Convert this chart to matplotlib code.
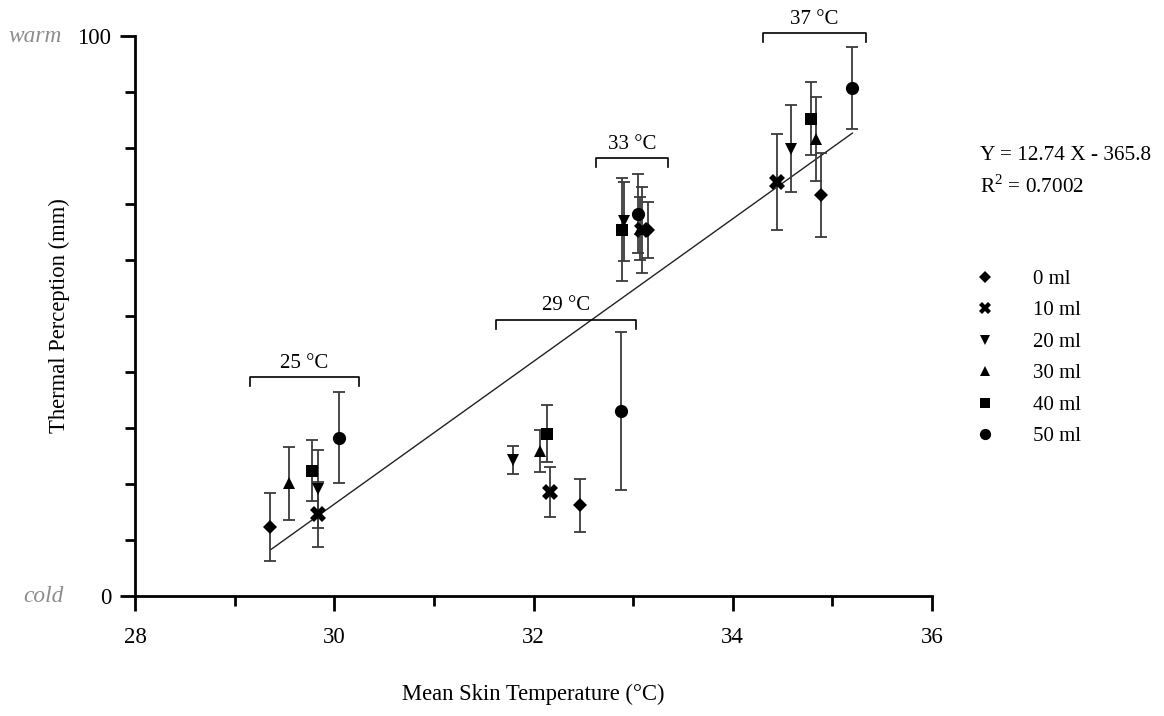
import matplotlib
matplotlib.use("Agg")
import matplotlib.pyplot as plt
from matplotlib.ticker import MultipleLocator, FixedLocator
import numpy as np

plt.rcParams['font.family'] = ['Liberation Serif', 'DejaVu Serif']
plt.rcParams['mathtext.fontset'] = 'custom'
plt.rcParams['mathtext.rm'] = 'Liberation Serif'

labels = ["0 ml", "10 ml", "20 ml", "30 ml", "40 ml", "50 ml"]
markers = ["D", "X", "v", "^", "s", "o"]
msizes = [7.0, 11.0, 8.5, 8.5, 9.0, 9.5]

x_0 = [29.36, 32.47, 33.15, 34.89]
y_0 = [12.3, 16.2, 65.4, 71.6]
e_0 = [6.1, 4.7, 5.0, 7.5]

x_10 = [29.84, 32.17, 33.09, 34.44]
y_10 = [14.6, 18.6, 65.4, 73.9]
e_10 = [5.8, 4.5, 7.7, 8.6]

x_20 = [29.84, 31.79, 32.91, 34.58]
y_20 = [19.1, 24.3, 66.9, 79.9]
e_20 = [7.0, 2.5, 7.1, 7.7]

x_30 = [29.55, 32.07, 33.07, 34.84]
y_30 = [20.1, 25.9, 65.6, 81.6]
e_30 = [6.5, 3.7, 5.6, 7.5]

x_40 = [29.78, 32.14, 32.89, 34.79]
y_40 = [22.4, 29.0, 65.4, 85.2]
e_40 = [5.5, 5.1, 9.2, 6.5]

x_50 = [30.05, 32.88, 33.05, 35.20]
y_50 = [28.3, 33.0, 68.3, 90.7]
e_50 = [8.1, 14.1, 7.0, 7.3]

slope = 12.74
intercept = -365.8
r2 = 0.7002

bracket_labels = ["25 °C", "29 °C", "33 °C", "37 °C"]
bracket_x0 = [29.15, 31.62, 32.63, 34.30]
bracket_x1 = [30.25, 33.03, 33.35, 35.34]
bracket_y = [39.1, 49.3, 78.2, 100.5]

xs = [x_0, x_10, x_20, x_30, x_40, x_50]
ys = [y_0, y_10, y_20, y_30, y_40, y_50]
es = [e_0, e_10, e_20, e_30, e_40, e_50]

fig = plt.figure(figsize=(11.64, 7.16), dpi=100)
ax = fig.add_axes([135/1164, 120/716, (932-135)/1164, (596-36)/716])

# regression line
allx = np.concatenate([np.array(v) for v in xs])
lx = np.array([allx.min(), allx.max()])
ax.plot(lx, slope*lx + intercept, color='#222222', lw=1.0, zorder=2)

for x, y, e, m, ms, lab in zip(xs, ys, es, markers, msizes, labels):
    ax.errorbar(x, y, yerr=e, fmt='none', ecolor='#3a3a3a', elinewidth=1.3,
                capsize=4.6, capthick=1.3, zorder=3)
    ax.plot(x, y, ls='none', marker=m, color='black', markersize=ms,
            markeredgewidth=0, label=lab, zorder=4)

# brackets
for lab, a, b, yy in zip(bracket_labels, bracket_x0, bracket_x1, bracket_y):
    ax.plot([a, a, b, b], [yy-1.6, yy, yy, yy-1.6], color='black', lw=1.2,
            clip_on=False)
    ax.text((a+b)/2, yy+0.8, lab, ha='center', va='bottom', fontsize=15,
            clip_on=False)

ax.set_xlim(28, 36)
ax.set_ylim(0, 100)
ax.spines['top'].set_visible(False)
ax.spines['right'].set_visible(False)
ax.spines['left'].set_linewidth(2.0)
ax.spines['bottom'].set_linewidth(2.0)
ax.xaxis.set_major_locator(MultipleLocator(2))
ax.xaxis.set_minor_locator(MultipleLocator(1))
ax.yaxis.set_major_locator(FixedLocator([0, 100]))
ax.yaxis.set_minor_locator(MultipleLocator(10))
ax.tick_params(which='major', length=11, width=2.0, labelsize=16.5)
ax.tick_params(axis='x', which='major', pad=11)
ax.tick_params(axis='y', which='major', pad=6)
ax.tick_params(which='minor', length=7, width=2.0)

ax.text(-0.092, 1.0, "warm", transform=ax.transAxes, ha='right', va='center',
        fontsize=16.8, style='italic', color='#8c8c8c')
ax.text(-0.090, 0.0, "cold", transform=ax.transAxes, ha='right', va='center',
        fontsize=16.8, style='italic', color='#8c8c8c')

ax.set_xlabel("Mean Skin Temperature (°C)", fontsize=16.3)
ax.xaxis.set_label_coords(0.5, -0.157)
ax.set_ylabel("Thermal Perception (mm)", fontsize=16.3)
ax.yaxis.set_label_coords(-0.082, 0.5)

fig.text(980/1164, 1-155/716, "Y = 12.74 X - 365.8", fontsize=15.3,
         ha='left', va='center')
fig.text(980/1164, 1-187/716, "R$^2$ = 0.7002", fontsize=15.3,
         ha='left', va='center')

leg = ax.legend(loc='upper left', bbox_to_anchor=(962/1164, 1-259/716),
                bbox_transform=fig.transFigure, frameon=False, fontsize=15,
                markerscale=0.85, handlelength=1.2, handletextpad=1.72,
                labelspacing=0.57, borderpad=0)

fig.savefig("out.png", dpi=100)
